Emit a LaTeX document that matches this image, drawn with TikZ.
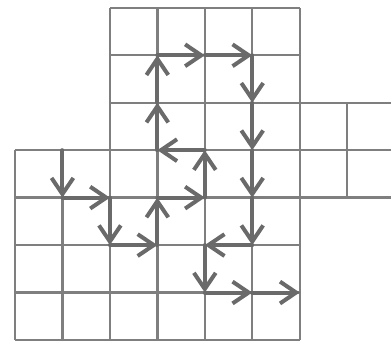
\documentclass[tikz,border=0pt]{standalone}
\usetikzlibrary{arrows.meta}
\definecolor{gridgray}{HTML}{7F7F7F}
\definecolor{arrowgray}{HTML}{6A6A6A}
\tikzset{
  gridline/.style={draw=gridgray, line width=1.4pt},
  pathseg/.style={draw=arrowgray, line width=2.4pt, line cap=round,
    -{Straight Barb[length=3.4mm,width=4.6mm,line width=2.4pt]}},
}
\begin{document}
\begin{tikzpicture}
\useasboundingbox (-0.316,-0.042) rectangle (7.924,7.165);
% grid
\draw[gridline] (2,4) grid (6,7);
\draw[gridline] (0,0) grid (6,4);
\foreach \y in {3,4,5} \draw[gridline] (6,\y) -- (7.95,\y);
\draw[gridline] (7,3) -- (7,5);
% path points
\coordinate (p0) at (1,4);
\coordinate (p1) at (1,3);
\coordinate (p2) at (2,3);
\coordinate (p3) at (2,2);
\coordinate (p4) at (3,2);
\coordinate (p5) at (3,3);
\coordinate (p6) at (4,3);
\coordinate (p7) at (4,4);
\coordinate (p8) at (3,4);
\coordinate (p9) at (3,5);
\coordinate (p10) at (3,6);
\coordinate (p11) at (4,6);
\coordinate (p12) at (5,6);
\coordinate (p13) at (5,5);
\coordinate (p14) at (5,4);
\coordinate (p15) at (5,3);
\coordinate (p16) at (5,2);
\coordinate (p17) at (4,2);
\coordinate (p18) at (4,1);
\coordinate (p19) at (5,1);
\coordinate (p20) at (6,1);
\foreach \a [evaluate=\a as \b using int(\a+1)] in {0,...,19}
  \draw[pathseg] (p\a) -- (p\b);
\end{tikzpicture}
\end{document}
